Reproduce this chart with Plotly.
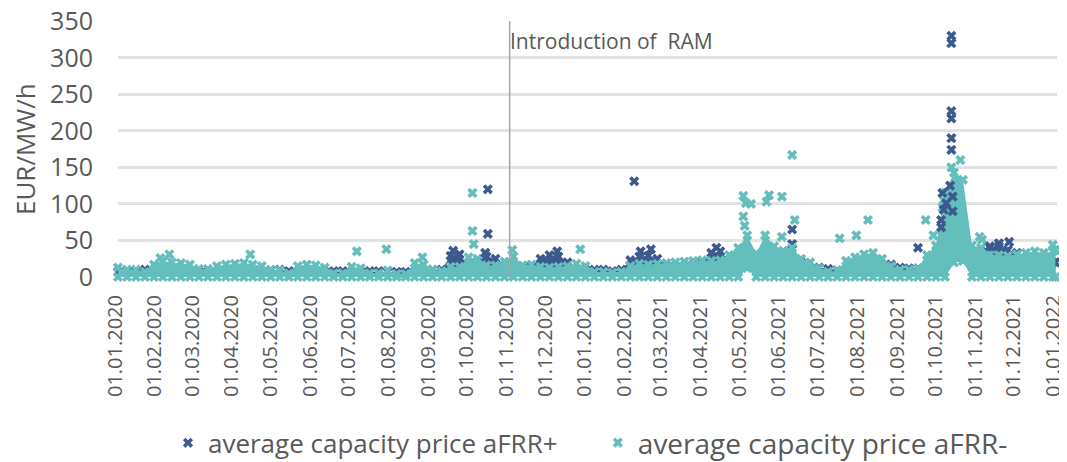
import pandas as pd
import plotly.graph_objects as go

# weekly sample dates (last point = 31.12.2021)
week_dates = list(pd.date_range("2020-01-01", periods=105, freq="7D")) + [pd.Timestamp("2021-12-31")]

# average capacity price aFRR+ : upper / lower edge of the dense band (EUR/MW/h)
plus_hi = [7, 8, 8, 10, 9, 7, 7, 7, 7, 7,
           7, 7, 7, 7, 7, 7, 7, 9, 10, 8,
           7, 7, 7, 7, 8, 8, 7, 7, 8, 8,
           7, 7, 7, 7, 7, 10, 10, 29, 31, 15,
           20, 28, 25, 15, 13, 13, 15, 25, 30, 28,
           20, 10, 10, 10, 10, 8, 10, 23, 28, 29,
           25, 15, 15, 15, 17, 20, 33, 35, 23, 25,
           30, 25, 25, 25, 30, 45, 20, 13, 13, 11,
           9, 8, 10, 10, 15, 17, 17, 13, 12, 12,
           17, 30, 85, 100, 55, 25, 35, 40, 42, 37,
           33, 25, 25, 23, 20, 20]
plus_lo = [0, 0, 0, 0, 0, 0, 0, 0, 0, 0,
           0, 0, 0, 0, 0, 0, 0, 0, 0, 0,
           0, 0, 0, 0, 0, 0, 0, 0, 0, 0,
           0, 0, 0, 0, 0, 0, 0, 0, 0, 0,
           0, 0, 0, 0, 0, 0, 0, 0, 0, 0,
           0, 0, 0, 0, 0, 0, 0, 0, 0, 0,
           0, 0, 0, 0, 0, 0, 0, 0, 0, 0,
           12, 0, 0, 0, 0, 0, 0, 0, 0, 0,
           0, 0, 0, 0, 0, 0, 0, 0, 0, 0,
           0, 0, 0, 20, 22, 0, 0, 0, 0, 0,
           0, 0, 0, 0, 0, 0]

# average capacity price aFRR- : upper / lower edge of the dense band
minus_hi = [13, 10, 10, 7, 17, 22, 20, 19, 17, 11,
            11, 15, 17, 18, 19, 17, 15, 10, 9, 5,
            15, 17, 16, 13, 5, 5, 14, 12, 5, 5,
            9, 4, 4, 19, 17, 10, 8, 14, 14, 27,
            25, 16, 16, 21, 28, 16, 17, 14, 13, 14,
            15, 18, 15, 7, 7, 6, 7, 15, 18, 17,
            18, 19, 20, 21, 22, 23, 22, 23, 30, 40,
            57, 32, 57, 42, 36, 40, 25, 20, 12, 7,
            9, 22, 27, 31, 33, 25, 15, 10, 10, 12,
            30, 43, 115, 143, 133, 43, 40, 31, 30, 29,
            31, 33, 35, 33, 35, 37]
minus_lo = [0, 0, 0, 0, 0, 0, 0, 0, 0, 0,
            0, 0, 0, 0, 0, 0, 0, 0, 0, 0,
            0, 0, 0, 0, 0, 0, 0, 0, 0, 0,
            0, 0, 0, 0, 0, 0, 0, 0, 0, 0,
            0, 0, 0, 0, 0, 0, 0, 0, 0, 0,
            0, 0, 0, 0, 0, 0, 0, 0, 0, 0,
            0, 0, 0, 0, 0, 0, 0, 0, 0, 0,
            12, 0, 0, 0, 0, 0, 0, 0, 0, 0,
            0, 0, 0, 0, 0, 0, 0, 0, 0, 0,
            0, 0, 0, 20, 22, 0, 0, 0, 0, 0,
            0, 0, 0, 0, 0, 0]

# isolated high values
plus_out_dates = ["2020-09-18", "2020-10-13", "2020-10-15", "2020-10-15", "2020-12-08",
                  "2021-02-06", "2021-02-11", "2021-02-19", "2021-04-11", "2021-06-09",
                  "2021-09-15", "2021-10-03", "2021-10-03", "2021-10-04", "2021-10-05",
                  "2021-10-07", "2021-10-10", "2021-10-11", "2021-10-11", "2021-10-11",
                  "2021-10-11", "2021-10-11", "2021-10-11", "2021-10-12", "2021-10-12",
                  "2021-11-10", "2021-11-17", "2021-11-25"]
plus_out_vals = [36, 33, 120, 59, 35,
                 131, 35, 38, 40, 65,
                 40, 68, 78, 115, 92,
                 101, 125, 330, 320, 227,
                 217, 190, 174, 110, 90,
                 42, 46, 48]
minus_out_dates = ["2020-02-03", "2020-02-10", "2020-04-13", "2020-07-05", "2020-07-28",
                   "2020-08-25", "2020-10-03", "2020-10-03", "2020-10-04", "2020-11-03",
                   "2020-12-26", "2021-05-02", "2021-05-02", "2021-05-03", "2021-05-04",
                   "2021-05-08", "2021-05-20", "2021-05-22", "2021-06-01", "2021-06-01",
                   "2021-06-09", "2021-06-11", "2021-07-16", "2021-07-29", "2021-08-07",
                   "2021-09-21", "2021-09-27", "2021-10-04", "2021-10-05", "2021-10-11",
                   "2021-10-18", "2021-11-02", "2021-11-04", "2021-12-29"]
minus_out_vals = [26, 31, 31, 35, 38,
                  27, 115, 63, 45, 37,
                  38, 111, 83, 70, 101,
                  100, 103, 112, 110, 55,
                  167, 78, 53, 57, 78,
                  78, 57, 95, 105, 150,
                  160, 55, 51, 44]

month_ticks = list(pd.date_range("2020-01-01", "2022-01-01", freq="MS"))
y_ticks = [0, 50, 100, 150, 200, 250, 300, 350]

DARK = "#3C5A8E"
TEAL = "#63BEBC"
GREY = "#595959"
FONT = "Open Sans"

fig = go.Figure()


def add_band(hi, lo, color):
    fig.add_trace(go.Scatter(x=week_dates, y=lo, mode="lines", line=dict(width=0, color=color),
                             showlegend=False, hoverinfo="skip"))
    fig.add_trace(go.Scatter(x=week_dates, y=hi, mode="lines", line=dict(width=0, color=color),
                             fill="tonexty", fillcolor=color, showlegend=False, hoverinfo="skip"))


mk = dict(symbol="x", size=9, line=dict(width=0))

# aFRR+ (drawn first, underneath)
add_band(plus_hi, plus_lo, DARK)
fig.add_trace(go.Scatter(x=week_dates, y=plus_hi, mode="markers",
                         marker=dict(color=DARK, **mk), showlegend=False, cliponaxis=False))

# aFRR-
add_band(minus_hi, minus_lo, TEAL)
fig.add_trace(go.Scatter(x=week_dates + week_dates + [pd.Timestamp(d) for d in minus_out_dates],
                         y=minus_hi + minus_lo + minus_out_vals, mode="markers",
                         marker=dict(color=TEAL, **mk), cliponaxis=False,
                         name="average capacity price aFRR-", legend="legend2"))

# aFRR+ isolated points on top
fig.add_trace(go.Scatter(x=[pd.Timestamp(d) for d in plus_out_dates], y=plus_out_vals, mode="markers",
                         marker=dict(color=DARK, **mk), cliponaxis=False,
                         name="average capacity price aFRR+", legend="legend"))

fig.add_shape(type="line", xref="x", yref="paper", x0="2020-11-01", x1="2020-11-01", y0=-0.01, y1=1,
              line=dict(color="#A6A6A6", width=1.5), layer="above")
fig.add_annotation(text="Introduction of\u00a0 RAM", xref="x", yref="paper", x="2020-10-31", y=0.92,
                   xanchor="left", yanchor="middle", showarrow=False,
                   font=dict(family=FONT, size=21, color=GREY))
# y-axis title
fig.add_annotation(text="EUR/MW/h", xref="paper", yref="paper", x=-0.099, y=0.5, textangle=-90,
                   xanchor="center", yanchor="middle", showarrow=False,
                   font=dict(family=FONT, size=26, color=GREY))

leg_common = dict(orientation="h", yanchor="middle", y=-0.648, xanchor="left", bgcolor="rgba(0,0,0,0)")

# page body has an 8px default margin -> figure placed at (8, 8); plot area spans x 118..1057, y 21..277
fig.update_layout(
    width=1067, height=454,
    margin=dict(l=110, r=18, t=13, b=185, autoexpand=False),
    paper_bgcolor="white", plot_bgcolor="white",
    font=dict(family=FONT, color=GREY),
    legend=dict(x=0.0532, font=dict(family=FONT, size=26, color=GREY), **leg_common),
    legend2=dict(x=0.511, font=dict(family=FONT, size=28, color=GREY), **leg_common),
    xaxis=dict(range=["2020-01-01", "2022-01-01 06:00"], tickvals=month_ticks, tickformat="%d.%m.%Y",
               tickangle=-90, tickfont=dict(family=FONT, size=20, color=GREY), ticklabeloverflow="allow",
               ticklabelshift=-3,
               showgrid=False, zeroline=False, showline=False, ticks="", ticklabelstandoff=13),
    yaxis=dict(range=[0, 350.3], tickvals=y_ticks, showgrid=True, gridcolor="#E2E2E2", gridwidth=3,
               zeroline=False, showline=False, ticks="", ticklabeloverflow="allow",
               tickfont=dict(family=FONT, size=25, color=GREY), ticklabelstandoff=24),
)

fig.write_html("out.html")
